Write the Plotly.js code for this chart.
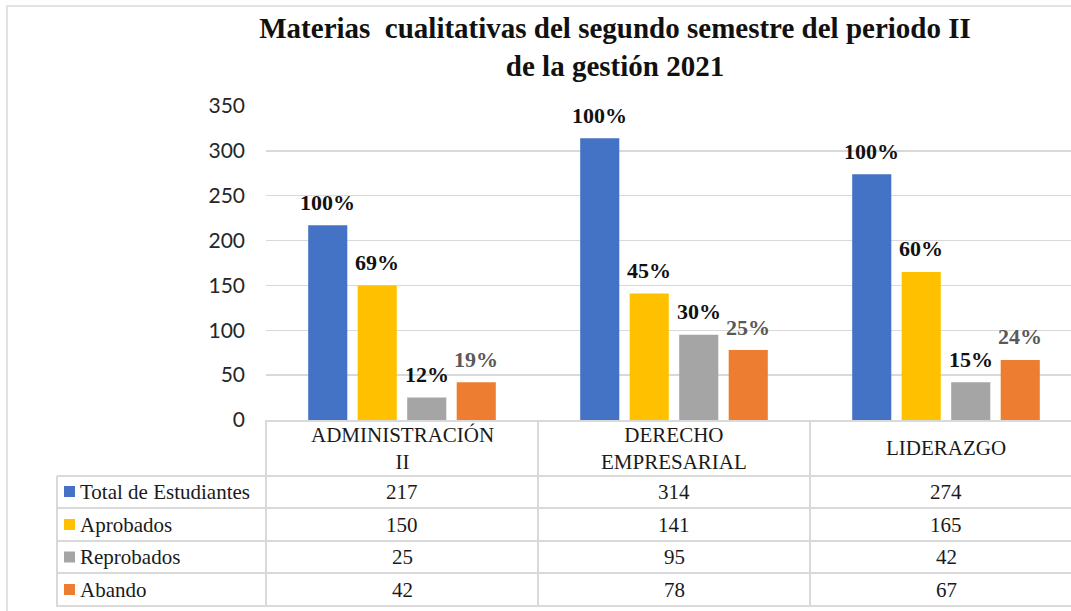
<!DOCTYPE html>
<html>
<head>
<meta charset="utf-8">
<script src="https://cdn.plot.ly/plotly-3.0.1.min.js"></script>
<style>html,body{margin:0;padding:0;background:#fff;}#chart{width:1071px;height:611px;}</style>
</head>
<body>
<div id="chart"></div>
<script>
// ---- data ----
const categories = ["ADMINISTRACIÓN II", "DERECHO EMPRESARIAL", "LIDERAZGO"];
const headerLabels = ["ADMINISTRACIÓN<br>II", "DERECHO<br>EMPRESARIAL", "LIDERAZGO"];
const seriesNames = ["Total de Estudiantes", "Aprobados", "Reprobados", "Abando"];
const totalEstudiantes = [217, 314, 274];
const aprobados = [150, 141, 165];
const reprobados = [25, 95, 42];
const abando = [42, 78, 67];
const pctTotal = ["100%", "100%", "100%"];
const pctAprobados = ["69%", "45%", "60%"];
const pctReprobados = ["12%", "30%", "15%"];
const pctAbando = ["19%", "25%", "24%"];
const yTicks = [0, 50, 100, 150, 200, 250, 300, 350];

// ---- styling ----
const colors = ["#4472C4", "#FFC000", "#A5A5A5", "#ED7D31"];
const gridColor = "#d9d9d9";
const serif = "Liberation Serif, Times New Roman, serif";
const sans = "Lato, Carlito, Calibri, sans-serif";

const seriesValues = [totalEstudiantes, aprobados, reprobados, abando];
const seriesPct = [pctTotal, pctAprobados, pctReprobados, pctAbando];

// plot area pixel geometry (for layout helpers)
const L = 266, R = 1071, T = 106, B = 420;
const xp = px => (px - L) / (R - L);
const yp = py => (B - py) / (B - T);

const bargap = 0.272;
const slot = (1 - bargap) / seriesNames.length;

const traces = seriesNames.map((name, s) => ({
  type: "bar",
  name: name,
  x: categories,
  y: seriesValues[s],
  marker: {color: colors[s]},
  hoverinfo: "x+y+name",
  showlegend: false
}));

const annotations = [];
// percentage labels above bars
seriesNames.forEach((name, s) => {
  categories.forEach((c, i) => {
    annotations.push({
      xref: "x", yref: "y",
      x: i + (s - (seriesNames.length - 1) / 2) * slot,
      y: seriesValues[s][i],
      text: "<b>" + seriesPct[s][i] + "</b>",
      showarrow: false,
      yanchor: "middle", xanchor: "center",
      yshift: 23,
      font: {family: serif, size: 22, color: (s === 3 ? "#595959" : "#111111")}
    });
  });
});
// table header (category labels)
categories.forEach((c, i) => {
  annotations.push({
    xref: "x", yref: "paper", x: i, y: yp(448),
    text: headerLabels[i], showarrow: false,
    xanchor: "center", yanchor: "middle",
    font: {family: serif, size: 21, color: "#1a1a1a"}
  });
});
// table rows
const rowCenters = [491.5, 524.5, 557, 589.5];
const shapes = [];
seriesNames.forEach((name, s) => {
  annotations.push({
    xref: "paper", yref: "paper", x: xp(78), y: yp(rowCenters[s]),
    text: name, showarrow: false, xanchor: "left", yanchor: "middle",
    font: {family: serif, size: 21, color: "#1a1a1a"}
  });
  shapes.push({
    type: "rect", xref: "paper", yref: "paper",
    x0: xp(64), x1: xp(75), y0: yp(rowCenters[s] + 5.5), y1: yp(rowCenters[s] - 5.5),
    fillcolor: colors[s], line: {width: 0}
  });
  categories.forEach((c, i) => {
    annotations.push({
      xref: "x", yref: "paper", x: i, y: yp(rowCenters[s]),
      text: String(seriesValues[s][i]), showarrow: false,
      xanchor: "center", yanchor: "middle",
      font: {family: serif, size: 21, color: "#1a1a1a"}
    });
  });
});
// table lines
const lineStyle = {color: gridColor, width: 2};
[476, 508, 541, 573, 606].forEach(py => {
  shapes.push({type: "line", xref: "paper", yref: "paper",
    x0: xp(57), x1: xp(1075), y0: yp(py), y1: yp(py), line: lineStyle});
});
shapes.push({type: "line", xref: "paper", yref: "paper",
  x0: xp(57), x1: xp(57), y0: yp(476), y1: yp(607), line: lineStyle});
[266, 538, 810].forEach(px => {
  shapes.push({type: "line", xref: "paper", yref: "paper",
    x0: xp(px), x1: xp(px), y0: yp(420), y1: yp(607), line: lineStyle});
});
// outer chart border
shapes.push({type: "rect", xref: "paper", yref: "paper",
  x0: xp(7), x1: xp(1080), y0: yp(6), y1: yp(620),
  line: {color: gridColor, width: 1.5}, fillcolor: "rgba(0,0,0,0)", layer: "below"});

const layout = {
  width: 1071, height: 611,
  margin: {l: L, r: 1071 - R, t: T, b: 611 - B, pad: 0},
  paper_bgcolor: "#ffffff", plot_bgcolor: "#ffffff",
  barmode: "group", bargap: bargap, bargroupgap: 0.21,
  title: {
    text: "<b>Materias\u00a0 cualitativas del segundo semestre del periodo II<br>de la gestión 2021</b>",
    font: {family: serif, size: 29, color: "#111111"},
    xref: "paper", x: xp(615), xanchor: "center",
    yref: "container", y: 1 - 38 / 611, yanchor: "top"
  },
  xaxis: {
    type: "category", range: [-0.5, (R - L) / 272 - 0.5],
    showticklabels: false, showgrid: false, zeroline: false,
    showline: true, linecolor: gridColor, linewidth: 2, fixedrange: true
  },
  yaxis: {
    range: [0, 350], tickvals: yTicks, ticktext: yTicks.map(String),
    showgrid: true, gridcolor: gridColor, gridwidth: 1.5,
    zeroline: false, showline: false,
    tickfont: {family: sans, size: 21, color: "#262626"},
    ticklabelstandoff: 20, fixedrange: true
  },
  annotations: annotations,
  shapes: shapes,
  showlegend: false
};

Plotly.newPlot("chart", traces, layout, {displayModeBar: false, staticPlot: true});
</script>
</body>
</html>
